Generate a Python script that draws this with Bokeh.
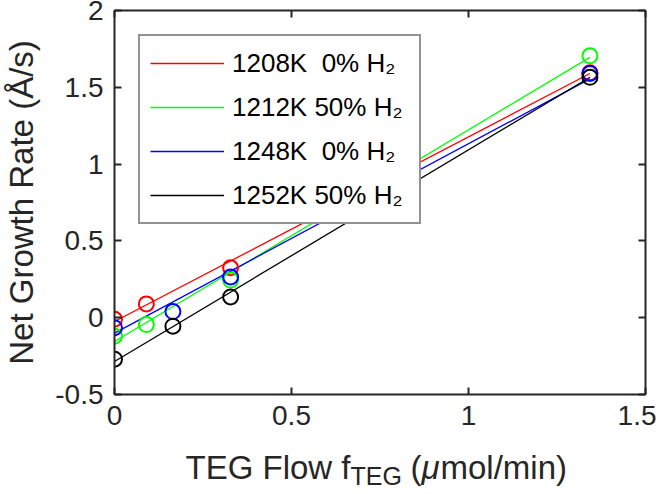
from bokeh.plotting import figure
from bokeh.layouts import column, row
from bokeh.models import Range1d, LinearAxis, FixedTicker, Legend, LegendItem
from bokeh.core.properties import value
from bokeh.embed import file_html
from bokeh.resources import INLINE

# ---- data ----
SERIES = ["1208K\u00a0\u00a00% H\u2082", "1212K 50% H\u2082", "1248K\u00a0\u00a00% H\u2082", "1252K 50% H\u2082"]
COLORS = ["#ff0000", "#00ff00", "#0000ff", "#000000"]

FLOW_1208 = [0.0, 0.09, 0.328, 1.343]
RATE_1208 = [-0.01, 0.09, 0.325, 1.595]
FLOW_1212 = [0.0, 0.09, 0.328, 1.343]
RATE_1212 = [-0.12, -0.045, 0.245, 1.705]
FLOW_1248 = [0.0, 0.165, 0.328, 1.343]
RATE_1248 = [-0.065, 0.04, 0.265, 1.59]
FLOW_1252 = [0.0, 0.165, 0.328, 1.343]
RATE_1252 = [-0.27, -0.055, 0.135, 1.565]

FIT_FLOW = [0.0, 1.343]
FIT_1208 = [-0.025, 1.59]
FIT_1212 = [-0.155, 1.695]
FIT_1248 = [-0.10, 1.555]
FIT_1252 = [-0.285, 1.565]

X_TICKS = [0, 0.5, 1, 1.5]
X_TICK_LABELS = ["0", "0.5", "1", "1.5"]
Y_TICKS = [-0.5, 0, 0.5, 1, 1.5, 2]
Y_TICK_LABELS = ["-0.5", "0", "0.5", "1", "1.5", "2"]

Y_TITLE = "Net Growth Rate (Å/s)"
# x title pieces: text, left position (canvas px), baseline (px from top of title strip), size, style
X_TITLE = [("TEG Flow f", 185.0, 29.0, "33px", "normal"),
           ("TEG", 350.0, 37.0, "25px", "normal"),
           ("(", 410.0, 29.0, "33px", "normal"),
           ("μ", 421.0, 29.0, "33px", "italic"),
           ("mol/min)", 440.0, 29.0, "33px", "normal")]

FONT = "Liberation Sans"
AX = "#262626"
W = 656
H_MAIN = 438
H_XT = 48
LEFT = 111
RIGHT = 11

p = figure(width=W, height=H_MAIN, output_backend="svg", toolbar_location=None,
           x_range=Range1d(0, 1.5), y_range=Range1d(-0.5, 2),
           min_border_left=LEFT, min_border_right=RIGHT, min_border_top=10, min_border_bottom=44)
p.title.visible = False
p.background_fill_color = "white"
p.border_fill_color = "white"
p.outline_line_color = None
p.xgrid.visible = False
p.ygrid.visible = False


def style_axis(ax, ticks, labels, show_labels, standoff):
    ax.ticker = FixedTicker(ticks=ticks)
    ax.major_tick_in = 7
    ax.major_tick_out = 0
    ax.minor_tick_line_color = None
    ax.axis_line_width = 2
    ax.axis_line_color = AX
    ax.major_tick_line_width = 2
    ax.major_tick_line_color = AX
    if show_labels:
        ax.major_label_overrides = {t: l for t, l in zip(ticks, labels)}
        ax.major_label_text_font = FONT
        ax.major_label_text_font_size = "28px"
        ax.major_label_text_color = AX
        ax.major_label_standoff = standoff
    else:
        ax.major_label_overrides = {t: "" for t in ticks}
        ax.major_label_text_font_size = "0px"
        ax.major_label_standoff = 0


style_axis(p.xaxis[0], X_TICKS, X_TICK_LABELS, True, 11)
style_axis(p.yaxis[0], Y_TICKS, Y_TICK_LABELS, True, 11)
p.yaxis[0].axis_label = Y_TITLE
p.yaxis[0].axis_label_text_font = FONT
p.yaxis[0].axis_label_text_font_size = "33px"
p.yaxis[0].axis_label_text_font_style = "normal"
p.yaxis[0].axis_label_text_color = AX
p.yaxis[0].axis_label_standoff = 12

top_ax = LinearAxis()
right_ax = LinearAxis()
style_axis(top_ax, X_TICKS, X_TICK_LABELS, False, 0)
style_axis(right_ax, Y_TICKS, Y_TICK_LABELS, False, 0)
p.add_layout(top_ax, "above")
p.add_layout(right_ax, "right")

flows = [FLOW_1208, FLOW_1212, FLOW_1248, FLOW_1252]
rates = [RATE_1208, RATE_1212, RATE_1248, RATE_1252]
fits = [FIT_1208, FIT_1212, FIT_1248, FIT_1252]

line_renderers = []
for fit, c in zip(fits, COLORS):
    r = p.line(FIT_FLOW, fit, line_color=c, line_width=1.3)
    line_renderers.append(r)
for fx, fy, c in zip(flows, rates, COLORS):
    p.scatter(fx, fy, marker="circle", size=15, fill_color=None, line_color=c, line_width=2)

legend = Legend(items=[LegendItem(label=s, renderers=[r]) for s, r in zip(SERIES, line_renderers)],
                location=(24, 170), orientation="vertical", margin=0,
                padding=10, spacing=10, glyph_width=74, glyph_height=34,
                label_height=34, label_width=177, label_standoff=8,
                label_text_font=FONT, label_text_font_size="26px", label_text_color="#000000",
                border_line_color=AX, border_line_width=2,
                background_fill_color="white", background_fill_alpha=1.0)
p.add_layout(legend)

# x axis title strip: x in canvas px (frame spans LEFT..W-RIGHT), y in px from strip top
xt = figure(width=W, height=H_XT, output_backend="svg", toolbar_location=None,
            x_range=Range1d(LEFT, W - RIGHT), y_range=Range1d(H_XT, 0),
            x_axis_type=None, y_axis_type=None,
            min_border_left=LEFT, min_border_right=RIGHT, min_border_top=0, min_border_bottom=0)
xt.title.visible = False
xt.outline_line_color = None
xt.xgrid.visible = False
xt.ygrid.visible = False
xt.background_fill_color = "white"
xt.border_fill_color = "white"
for t, x, y, fs, st in X_TITLE:
    xt.text(x=[x], y=[y], text=[t], text_align="left", text_baseline="alphabetic",
            text_font=value(FONT), text_font_size=value(fs), text_font_style=st,
            text_color=AX)

layout = column(p, row(xt, spacing=0), spacing=0)
open("out.html", "w").write(file_html(layout, INLINE))
